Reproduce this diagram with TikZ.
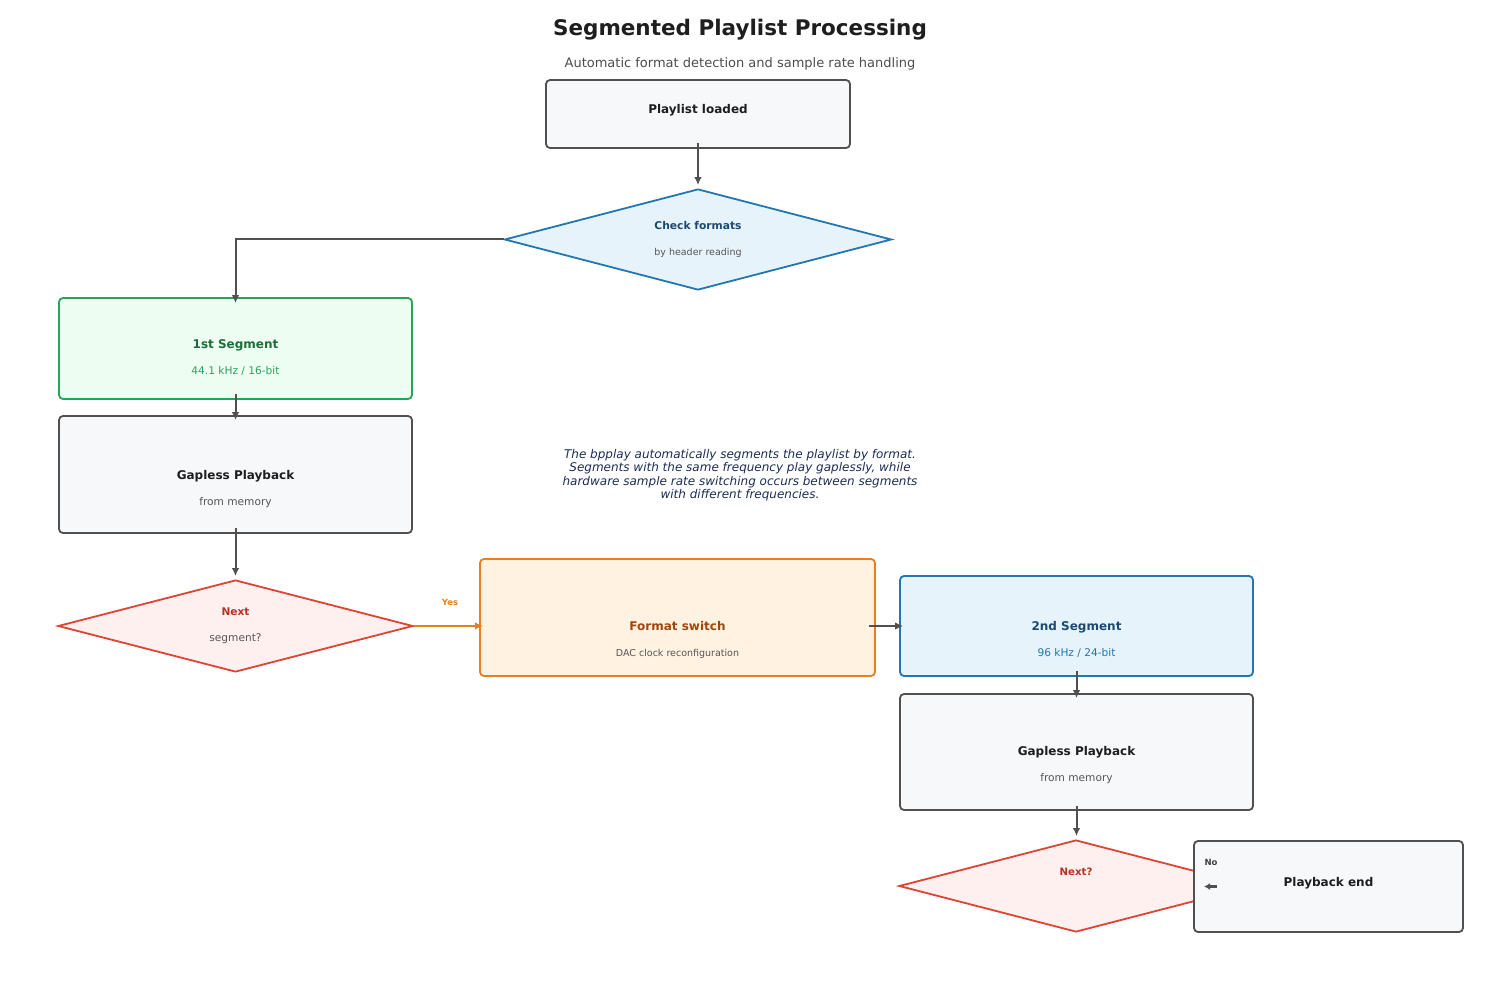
\documentclass[tikz,border=0pt]{standalone}
\usepackage{fontspec}
\setmainfont{DejaVu Sans}
\usetikzlibrary{shapes.geometric, arrows.meta}
\definecolor{InkDark}{HTML}{1E1E1E}
\definecolor{InkGray}{HTML}{555555}
\definecolor{LineGray}{HTML}{505050}
\definecolor{BoxBg}{HTML}{F7F8FA}
\definecolor{SegGreen}{HTML}{27A35A}
\definecolor{SegGreenDk}{HTML}{1D6E3A}
\definecolor{SegGreenBg}{HTML}{EEFDF2}
\definecolor{ChkBlue}{HTML}{2277B0}
\definecolor{ChkBlueDk}{HTML}{1B4A72}
\definecolor{ChkBlueBg}{HTML}{E7F3FA}
\definecolor{NxtRed}{HTML}{DD4433}
\definecolor{NxtRedDk}{HTML}{B83224}
\definecolor{NxtRedBg}{HTML}{FFF0F0}
\definecolor{SwOrange}{HTML}{E67E22}
\definecolor{SwOrangeDk}{HTML}{A0460C}
\definecolor{SwOrangeBg}{HTML}{FFF2E0}
\definecolor{NoteNavy}{HTML}{1C2C55}

\newcommand{\boxhead}[2]{{\fontsize{12}{14}\selectfont\bfseries\color{#1}#2}}
\newcommand{\boxsub}[2]{{\fontsize{10.6}{13}\selectfont\color{#1}#2}}
\newcommand{\boxsmall}[2]{{\fontsize{9.5}{13}\selectfont\color{#1}#2}}
% struts that push the text block down (height) or up (depth)
\newcommand{\pushdown}[1]{\rule{0pt}{#1}}
\newcommand{\pushup}[1]{\rule[-#1]{0pt}{#1}}

\begin{document}
\begin{tikzpicture}[x=1pt, y=-1pt,
    box/.style={rectangle, rounded corners=4pt, line width=1.8pt, align=center,
                inner sep=2pt, font=\fontsize{10.5}{13}\selectfont},
    dia/.style={diamond, aspect=3.85, line width=1.8pt, align=center,
                inner sep=0pt, font=\fontsize{10.5}{13}\selectfont},
    arr/.style={-{Latex[length=8pt,width=7.5pt]}, draw=LineGray, line width=2pt},
    tag/.style={font=\fontsize{8.5}{10}\selectfont\bfseries}
  ]
  \useasboundingbox (0,0) rectangle (1504,984);

  % heading
  \node[font=\fontsize{21.5}{24}\selectfont\bfseries, text=InkDark] (title) at (740,30)
        {Segmented Playlist Processing};
  \node[font=\fontsize{13}{15}\selectfont, text=InkGray!90!black] (subtitle) at (740,64)
        {Automatic format detection and sample rate handling};

  % flow
  \node[box, draw=LineGray, fill=BoxBg, minimum width=304pt, minimum height=68pt]
        (load) at (698,114) {\boxhead{InkDark}{Playlist loaded}\pushup{11pt}};
  \node[dia, draw=ChkBlue, fill=ChkBlueBg, minimum width=387pt, minimum height=101pt]
        (chk) at (698,239.5)
        {\boxhead{ChkBlueDk}{\fontsize{10.7}{13}\selectfont Check formats}\\[13pt]\boxsmall{InkGray}{by header reading}};

  \node[box, draw=SegGreen, fill=SegGreenBg, minimum width=353pt, minimum height=101pt]
        (seg1) at (235.5,348.5)
        {\pushdown{27pt}\boxhead{SegGreenDk}{1st Segment}\\[13pt]\boxsub{SegGreen}{44.1 kHz / 16-bit}};
  \node[box, draw=LineGray, fill=BoxBg, minimum width=353pt, minimum height=117pt]
        (gap1) at (235.5,474.5)
        {\pushdown{39pt}\boxhead{InkDark}{Gapless Playback}\\[13pt]\boxsub{InkGray}{from memory}};
  \node[dia, draw=NxtRed, fill=NxtRedBg, minimum width=355pt, minimum height=92pt]
        (nxt1) at (235.5,626)
        {\boxhead{NxtRedDk}{\fontsize{10.6}{13}\selectfont Next}\\[13pt]\boxsub{InkGray}{segment?}};

  \node[box, draw=SwOrange, fill=SwOrangeBg, minimum width=395pt, minimum height=117pt]
        (fmt) at (677.5,617.5)
        {\pushdown{53pt}\boxhead{SwOrangeDk}{Format switch}\\[13pt]\boxsmall{InkGray}{DAC clock reconfiguration}};
  \node[box, draw=ChkBlue, fill=ChkBlueBg, minimum width=353pt, minimum height=100pt]
        (seg2) at (1076.5,626)
        {\pushdown{36pt}\boxhead{ChkBlueDk}{2nd Segment}\\[13pt]\boxsub{ChkBlue}{96 kHz / 24-bit}};
  \node[box, draw=LineGray, fill=BoxBg, minimum width=353pt, minimum height=116pt]
        (gap2) at (1076.5,752)
        {\pushdown{35pt}\boxhead{InkDark}{Gapless Playback}\\[13pt]\boxsub{InkGray}{from memory}};
  \node[dia, draw=NxtRed, fill=NxtRedBg, minimum width=354pt, minimum height=92pt]
        (nxt2) at (1076,886)
        {\boxhead{NxtRedDk}{\fontsize{10.2}{13}\selectfont Next?}\pushup{29pt}};
  \node[box, draw=LineGray, fill=BoxBg, minimum width=269pt, minimum height=91pt]
        (pend) at (1328.5,886.5) {\boxhead{InkDark}{Playback end}\pushup{10pt}};

  % note
  \node[font=\fontsize{12}{13.4}\selectfont\itshape, text=NoteNavy, align=center]
        (note) at (740,475)
        {The bpplay automatically segments the playlist by format.\\
         Segments with the same frequency play gaplessly, while\\
         hardware sample rate switching occurs between segments\\
         with different frequencies.};

  % connectors
  \draw[arr, shorten <=-6pt, shorten >=3pt] (load) -- (chk);
  \draw[arr, shorten >=-6pt] (chk.west) -| (seg1.north);
  \draw[arr, shorten <=-6pt, shorten >=-5pt] (seg1) -- (gap1);
  \draw[arr, shorten <=-6pt, shorten >=3pt] (gap1) -- (nxt1);
  \draw[arr, draw=SwOrange, shorten >=-4pt] (nxt1.east) -- (nxt1.east -| fmt.west);
  \node[tag, text=SwOrange] (yes) at (450,602) {Yes};
  \draw[arr, shorten <=-7pt, shorten >=-4pt] (fmt.east |- seg2) -- (seg2.west);
  \draw[arr, shorten <=-6pt, shorten >=-5pt] (seg2) -- (gap2);
  \draw[arr, shorten <=-5pt, shorten >=3pt] (gap2.south) -- (gap2.south |- nxt2.north);
  \node[tag, text=InkDark!85] (no) at (1211,862) {No};
  \draw[arr, -{Latex[length=6pt,width=7pt]}, line width=2.2pt]
        ([xshift=24pt]pend.west) -- ([xshift=11pt]pend.west);
\end{tikzpicture}
\end{document}
